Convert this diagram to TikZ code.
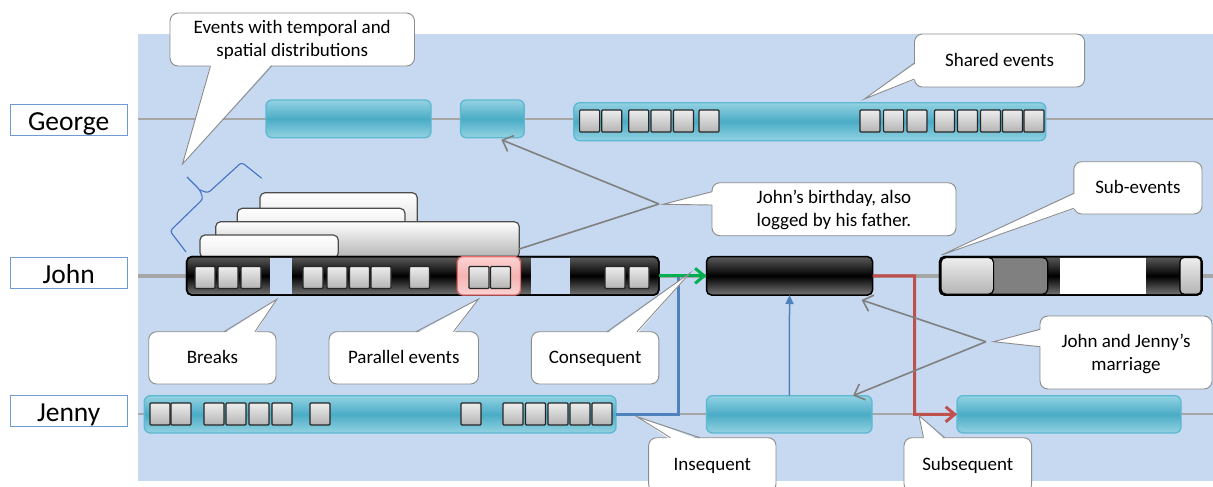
\documentclass[tikz,border=0pt]{standalone}
\usepackage{fontspec}
\setmainfont{Carlito}
\usetikzlibrary{arrows.meta,calc}
\definecolor{bgblue}{HTML}{C6D9F0}
\definecolor{tlgray}{HTML}{A6A6A6}
\definecolor{namebd}{HTML}{6E9AD6}
\definecolor{tealT}{HTML}{93D2E2}
\definecolor{tealM}{HTML}{4BACC6}
\definecolor{tealB}{HTML}{5DB8D1}
\definecolor{barT}{HTML}{5A5A5A}
\definecolor{barB}{HTML}{767676}
\definecolor{sqT}{HTML}{EDEDED}
\definecolor{sqB}{HTML}{B4B4B4}
\definecolor{pinkT}{HTML}{FBD3D3}
\definecolor{pinkM}{HTML}{F6B3B3}
\definecolor{pinkBd}{HTML}{E46C6C}
\definecolor{cgray}{HTML}{8C8C8C}
\definecolor{agray}{HTML}{808080}
\definecolor{cgreen}{HTML}{00B050}
\definecolor{cred}{HTML}{C0504D}
\definecolor{cblue}{HTML}{4F81BD}
\definecolor{bracec}{HTML}{4472C4}
\definecolor{subdark}{HTML}{808080}
\tikzset{
 every node/.style={inner sep=0pt, outer sep=0pt},
 namebox/.style={draw=namebd, line width=1.3pt, fill=white, minimum width=117pt, minimum height=31pt, text height=24pt, text depth=4pt, font=\fontsize{27.5}{30}\selectfont},
 tealbox/.style={draw=tealB, line width=1.3pt, rounded corners=6pt, top color=tealT, bottom color=tealT, middle color=tealM},
 blackbar/.style={draw=black, line width=1.5pt, rounded corners=5pt, top color=barT, bottom color=barB, middle color=black},
 sq/.style={draw=black!85, line width=1.2pt, top color=sqT, bottom color=sqB, rounded corners=1pt},
 pinkbox/.style={draw=pinkBd, line width=1.3pt, rounded corners=5pt, top color=pinkT, bottom color=pinkT, middle color=pinkM},
 stackbox/.style={draw=black!70, line width=1.2pt, rounded corners=5pt, top color=white},
 cbox/.style={draw=cgray, line width=0.9pt, fill=white, rounded corners=8pt, align=center, font=\fontsize{19}{23}\selectfont},
 cline/.style={draw=cgray, line width=0.9pt},
 garrow/.style={draw=agray, line width=1.6pt, -{Straight Barb[length=9pt,width=17pt]}},
 gline/.style={draw=agray, line width=1.6pt},
 tline/.style={draw=tlgray, line width=2pt},
 outl/.style={draw=black, line width=1.5pt, rounded corners=5pt},
}
\newcommand\cs{\rule[-4pt]{0pt}{20pt}}
\newcommand\bx[6]{\node[#2, minimum width={(#5)-(#3)}, minimum height={(#6)-(#4)}, anchor=north west] (#1) at (#3,#4) {};}
\newcommand\cb[6]{\node[cbox, minimum width={(#4)-(#2)}, minimum height={(#5)-(#3)}, anchor=north west] (#1) at (#2,#3) {#6};}
\newcommand\ptr[4]{\fill[white] ($(#1)+(#4)$) -- (#3) -- ($(#2)+(#4)$) -- cycle; \draw[cline] (#1) -- (#3) -- (#2);}
\newcommand\sqs[2]{\foreach \xx in {#1} {\draw[sq] (\xx,#2) rectangle ++(20,22);}}
\begin{document}
\begin{tikzpicture}[x=1pt,y=-1pt]
\useasboundingbox (0,0) rectangle (1213,487);
\fill[bgblue] (138,34) rectangle (1213,481);
% timelines
\draw[tline] (138,119) -- (1213,119);
\draw[tline, line width=4pt] (138,276) -- (1213,276);
\draw[tline] (138,414) -- (1213,414);
% names
\node[namebox] (nGeorge) at (68.7,120.3) {George};
\node[namebox] (nJohn) at (68.7,273) {John};
\node[namebox] (nJenny) at (68.7,411.3) {Jenny};
% George
\bx{g1}{tealbox}{266}{100}{431}{137.7}
\bx{g2}{tealbox}{460.4}{100}{524.3}{137.7}
\bx{g3}{tealbox}{573.8}{102.7}{1045.8}{140.7}
\sqs{579.6,601.7,628.8,651,673.4,698.9,860,883.6,907,934.5,957.4,980.4,1002.4,1024}{110}
% stacked boxes
\bx{stA}{stackbox, bottom color=gray!45}{260}{192.7}{417.3}{258}
\bx{stB}{stackbox, bottom color=gray!40}{237.3}{208.3}{405}{258}
\bx{stC}{stackbox, bottom color=gray!60}{215.7}{221.7}{519.3}{258}
\bx{stD}{stackbox, bottom color=gray!15}{200}{235}{338.3}{258}
% brace
\draw[bracec, line width=1.1pt, rounded corners=3pt] (186,252) -- (170,231) -- (203,199) -- (200,190) -- (187,177);
\draw[bracec, line width=1.1pt, rounded corners=3pt] (200,190) -- (208,193) -- (241.7,162.3) -- (261.7,178.3);
% John bar 1
\bx{jb1}{blackbar}{186.7}{256.7}{658.8}{295}
\fill[bgblue] (270,257.5) rectangle (291.7,294.2);
\fill[bgblue] (530.6,257.5) rectangle (570.2,294.2);
\draw[outl] (jb1.north west) rectangle (jb1.south east);
\bx{par}{pinkbox}{457.3}{256.7}{520.5}{295}
\sqs{195,218,241,303,327,349.5,371,409.5,469,490.5,605,629}{266.5}
% John bar 2
\bx{jb2}{blackbar}{706.5}{256.7}{872.6}{295}
% sub-events bar
\bx{sev}{blackbar}{939.6}{256.7}{1202}{295}
\fill[white] (1059.5,257.5) rectangle (1146.4,294.2);
\draw[black, line width=1.2pt, rounded corners=5pt, fill=subdark] (941,257.5) rectangle (1047.7,294.2);
\draw[black, line width=1.2pt, rounded corners=5pt, top color=sqT, bottom color=sqB] (941,257.5) rectangle (993.6,294.2);
\draw[black, line width=1.2pt, rounded corners=4pt, top color=sqT, bottom color=sqB] (1180,257.5) rectangle (1201,294.2);
\draw[outl] (sev.north west) rectangle (sev.south east);
% Jenny
\bx{j1}{tealbox}{144.3}{395.7}{616}{433}
\bx{j2}{tealbox}{706.5}{395.7}{872}{433}
\bx{j3}{tealbox}{957}{395.7}{1181}{433}
\sqs{150,171,204,226,249,272,310,461,503,525.5,548,570,592}{403}
% connectors
\coordinate (gjoin) at (678,276);
\draw[cblue, line width=3pt] (j1.east) -| (gjoin);
\draw[cgreen, line width=3pt, -{Straight Barb[length=9pt,width=15pt]}] (jb1.east) -- (jb2.west);
\coordinate (rturn) at (914.5,414.35);
\draw[cred, line width=3pt, -{Straight Barb[length=9pt,width=15pt]}] (jb2.east) -| (rturn) -- (j3.west);
\draw[cblue, line width=1.5pt, -{Triangle[length=9pt,width=8pt]}] (j2.north) -- (jb2.south);
% callouts
\cb{cEvents}{170}{13}{414.5}{66}{\cs Events with temporal and\\\cs spatial distributions}
\ptr{210.5,66}{271.7,66}{182.5,164}{0,-2}
\cb{cShared}{914.5}{34}{1084.6}{87}{\cs Shared events}
\ptr{914.5,63}{914.5,79}{864.4,99}{2,0}
\cb{cBirth}{712}{182.7}{956}{235.7}{\cs John’s birthday, also\\\cs logged by his father.}
\ptr{712,191.7}{712,205}{663,204.3}{2,0}
\cb{cSub}{1073.8}{161.7}{1202}{214}{\cs Sub-events}
\ptr{1073.8,193.3}{1073.8,208.3}{941.6,255}{2,0}
\cb{cBreaks}{148.7}{331.7}{276}{384}{\cs Breaks}
\ptr{224,331.7}{255,331.7}{276.8,299.3}{0,2}
\cb{cPar}{329}{331.7}{478.5}{384}{\cs Parallel events}
\ptr{416,331.7}{453.5,331.7}{478.5,299}{0,2}
\cb{cCons}{531.4}{331.7}{658.8}{384}{\cs Consequent}
\ptr{607,331.7}{637,331.7}{690,273}{0,2}
\cb{cMarr}{1040}{316}{1212}{389}{\cs John and Jenny’s\\\cs marriage}
\ptr{1040,329.3}{1040,346.7}{993.6,341.7}{2,0}
\cb{cInseq}{648.6}{437.7}{776}{492}{\cs Insequent}
\ptr{670.5,437.7}{700,437.7}{637,416.7}{0,2}
\cb{cSubseq}{904}{437.7}{1031.6}{492}{\cs Subsequent}
\ptr{923.5,437.7}{944.7,437.7}{919,415.7}{0,2}
% gray arrows
\coordinate (jbtip) at (659,204);
\draw[garrow] (jbtip) -- ($(g2.south)+(9,2)$);
\draw[gline] (jbtip) -- ($(stC.south east)+(0,-9)$);
\coordinate (mtip) at (986,341.7);
\draw[garrow] (mtip) -- ($(jb2.south east)+(-11,5)$);
\draw[garrow] (mtip) -- ($(j2.north east)+(-19,0)$);
\end{tikzpicture}
\end{document}
